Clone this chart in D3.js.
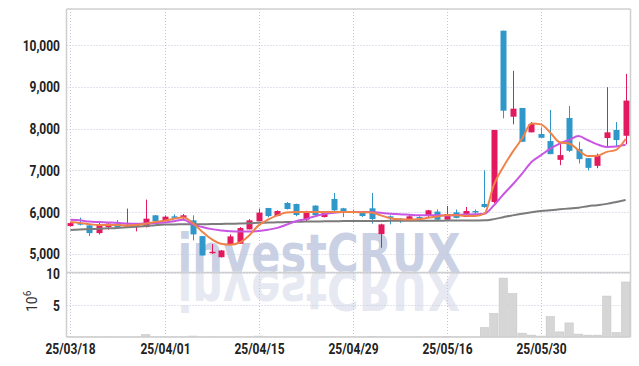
<html>
<head>
<script src="https://d3js.org/d3.v7.min.js" charset="utf-8"></script>
<style type="text/css">
  body { margin: 0; padding: 0; background: #fff; }
  svg { display: block; }
  .tick-label { font-family: Roboto, "DejaVu Sans Condensed", sans-serif; font-weight: 700; font-size: 15px; fill: #222; }
</style>
</head>
<body>
<svg id="chart" width="639" height="366"></svg>
<script type="text/javascript">
// trading days (yy/mm/dd)
var dates = ["25/03/18","25/03/19","25/03/20","25/03/21","25/03/24","25/03/25","25/03/26","25/03/27","25/03/28","25/03/31",
  "25/04/01","25/04/02","25/04/03","25/04/04","25/04/07","25/04/08","25/04/09","25/04/10","25/04/11","25/04/14",
  "25/04/15","25/04/16","25/04/17","25/04/18","25/04/21","25/04/22","25/04/23","25/04/24","25/04/25","25/04/28",
  "25/04/29","25/04/30","25/05/02","25/05/07","25/05/08","25/05/09","25/05/12","25/05/13","25/05/14","25/05/15",
  "25/05/16","25/05/19","25/05/20","25/05/21","25/05/22","25/05/23","25/05/26","25/05/27","25/05/28","25/05/29",
  "25/05/30","25/06/02","25/06/04","25/06/05","25/06/09","25/06/10","25/06/11","25/06/12","25/06/13","25/06/16"];

var opens  = [5663,5735,5680,5495,5640,5721,5649,5649,5640,5921, 5784,5897,5865,5800,5423,5014,4918,5216,5240,5584,
              5777,6096,5904,6216,6192,5817,6154,5880,6313,6089, 6024,6010,6089,5471,5897,5841,5784,5880,5928,6010,
              5817,5993,5880,6024,6192,6240,10344,8284,8493,7909, 7868,7700,7250,8253,7507,7291,7106,7772,7966,7827];
var highs  = [5760,5866,5700,5760,5735,5808,6082,5710,6298,5930, 5920,5945,5952,5921,5423,5231,5090,5464,5640,5830,
              6082,6100,6040,6240,6200,6030,6160,5990,6457,6100, 6060,6020,6457,5720,5920,5850,5930,5900,6050,6060,
              6144,6060,6120,6060,7000,7966,10344,9383,8493,8156, 8029,8445,7644,8541,7683,7291,7400,8990,8156,9310];
var lows   = [5650,5680,5423,5464,5577,5620,5615,5536,5630,5760, 5780,5832,5800,5320,4959,5000,4910,5216,5240,5584,
              5777,5873,5900,6060,5900,5777,5920,5870,6020,5880, 5960,5880,5721,5144,5704,5740,5784,5800,5880,5800,
              5817,5850,5880,5960,6100,6209,8245,8101,7683,7909, 7779,7387,7123,7440,7164,6996,7050,7563,7563,7620];
var closes = [5735,5697,5495,5697,5721,5625,5697,5697,5841,5784, 5889,5865,5921,5464,4959,5048,5079,5416,5615,5800,
              5986,5904,6024,6072,5928,6017,5928,5976,6041,6000, 5985,5904,5832,5704,5865,5784,5897,5850,6041,5817,
              5950,5860,6024,5993,6120,7966,8428,8476,7683,8108, 7779,7387,7363,7467,7267,7058,7346,7909,7724,8669];

// volume, millions of shares
var volume = [0.03,0.03,0.03,0.03,0.03,0.03,0.03,0.03,0.4,0.03, 0.03,0.03,0.03,0.15,0.03,0.03,0.03,0.03,0.03,0.03,
              0.15,0.03,0.03,0.03,0.03,0.03,0.03,0.03,0.03,0.03, 0.03,0.03,0.12,0.03,0.03,0.03,0.03,0.03,0.03,0.03,
              0.1,0.03,0.03,0.03,1.5,3.7,9.2,6.8,0.6,0.3, 0.15,3.2,0.8,2.2,0.45,0.3,0.3,6.4,0.7,8.6];

// moving averages
var ma5  = [5760,5740,5710,5690,5690,5690,5680,5690,5720,5760, 5790,5840,5866,5740,5530,5350,5240,5216,5270,5440,
            5680,5817,5921,5986,6000,6000,6000,6000,6000,6000, 6000,5995,5990,5920,5850,5825,5820,5825,5860,5890,
            5930,5920,5910,5905,5960,6650,7080,7440,7760,8120, 8100,7900,7670,7640,7480,7340,7350,7440,7490,7750];
var ma20 = [5817,5800,5770,5760,5750,5740,5725,5720,5725,5735, 5750,5780,5817,5705,5640,5590,5560,5540,5536,5536,
            5545,5575,5620,5700,5780,5830,5900,5950,5985,6000, 6000,6000,6000,5980,5960,5945,5935,5925,5920,5920,
            5915,5930,5940,5945,5960,6160,6420,6660,6920,7200, 7360,7520,7640,7730,7820,7720,7620,7560,7570,7610];
var ma60 = [5570,5580,5590,5600,5610,5620,5635,5650,5665,5685, 5700,5703,5705,5706,5708,5710,5714,5718,5722,5728,
            5740,5748,5754,5760,5765,5770,5774,5777,5780,5782, 5784,5785,5786,5787,5788,5789,5790,5791,5792,5793,
            5794,5795,5796,5798,5800,5830,5875,5920,5960,5995, 6024,6045,6065,6085,6105,6140,6165,6195,6240,6290];

var priceTicks = [5000, 6000, 7000, 8000, 9000, 10000];
var volumeTicks = [5, 10];
var dateTicks = ["25/03/18","25/04/01","25/04/15","25/04/29","25/05/16","25/05/30"];

var plotLeft = 66.5, plotRight = 630.5, plotTop = 9, priceBottom = 272.5, volBottom = 337;
var upColor = "#e2195f", downColor = "#2f97c9";

var svg = d3.select("#chart");

var x = d3.scaleBand().domain(dates).range([65.7, 630.3]).padding(0);
var bw = x.bandwidth();
function cx(d) { return Math.round(x(d) + bw / 2); }

var y = d3.scaleLinear().domain([4551, 10864]).range([priceBottom, plotTop]);
var yv = d3.scaleLinear().domain([0, 10]).range([volBottom, 273]);

// watermark and its reflection
function watermark(fill, transform) {
  svg.append("text")
    .attr("transform", transform)
    .attr("x", 319).attr("y", 272)
    .attr("text-anchor", "middle")
    .attr("textLength", 283).attr("lengthAdjust", "spacingAndGlyphs")
    .style("font-family", "'DejaVu Sans', sans-serif").style("font-weight", "bold").style("font-size", "53px")
    .style("fill", fill)
    .text("investCRUX");
}
watermark("#cad1e5", null);
watermark("#e6e9f2", "translate(0,272) scale(1,-1) translate(0,-272)");

// grid
var grid = svg.append("g").attr("stroke", "#c4c7d8").attr("stroke-dasharray", "1,2").attr("stroke-width", 1);
grid.selectAll("line.hp").data(priceTicks).enter().append("line")
  .attr("x1", plotLeft).attr("x2", plotRight)
  .attr("y1", function(d) { return Math.round(y(d)) + 0.5; })
  .attr("y2", function(d) { return Math.round(y(d)) + 0.5; });
grid.selectAll("line.hv").data(volumeTicks).enter().append("line")
  .attr("x1", plotLeft).attr("x2", plotRight)
  .attr("y1", function(d) { return Math.round(yv(d)) + 0.5; })
  .attr("y2", function(d) { return Math.round(yv(d)) + 0.5; });
grid.selectAll("line.v").data(dateTicks).enter().append("line")
  .attr("x1", function(d) { return cx(d) + 0.5; }).attr("x2", function(d) { return cx(d) + 0.5; })
  .attr("y1", plotTop).attr("y2", volBottom);

// volume bars
svg.append("g").selectAll("rect").data(dates).enter().append("rect")
  .attr("x", function(d) { return x(d) + 0.5; })
  .attr("width", bw - 1)
  .attr("y", function(d, i) { return yv(volume[i]); })
  .attr("height", function(d, i) { return volBottom - yv(volume[i]); })
  .attr("fill", "#d6d6d6").attr("stroke", "#c4c4c4").attr("stroke-width", 0.5);

// candles
function candleColor(d, i) { return closes[i] >= opens[i] ? upColor : downColor; }
var candles = svg.append("g").selectAll("g").data(dates).enter().append("g")
  .attr("fill", candleColor)
  .attr("stroke", candleColor);
candles.append("line")
  .attr("x1", function(d) { return cx(d) + 0.5; }).attr("x2", function(d) { return cx(d) + 0.5; })
  .attr("y1", function(d, i) { return y(highs[i]); })
  .attr("y2", function(d, i) { return y(lows[i]); })
  .attr("stroke-width", 1);
candles.append("rect")
  .attr("stroke", "none")
  .attr("x", function(d) { return cx(d) - 2.5; })
  .attr("width", 6)
  .attr("y", function(d, i) { return y(Math.max(opens[i], closes[i])); })
  .attr("height", function(d, i) { return Math.max(1.5, Math.abs(y(opens[i]) - y(closes[i]))); });

// moving averages
function maLine(values) {
  return d3.line()
    .x(function(d, i) { return x(dates[i]) + bw / 2; })
    .y(function(d) { return y(d); })
    .curve(d3.curveMonotoneX)(values);
}
svg.append("path").attr("d", maLine(ma60)).attr("fill", "none").attr("stroke", "#7b7b7b").attr("stroke-width", 2);
svg.append("path").attr("d", maLine(ma20)).attr("fill", "none").attr("stroke", "#c955e3").attr("stroke-width", 2);
svg.append("path").attr("d", maLine(ma5)).attr("fill", "none").attr("stroke", "#ef8249").attr("stroke-width", 2);

// frame
var frame = svg.append("g").attr("stroke", "#cfcfcf").attr("stroke-width", 1.5).attr("fill", "none");
frame.append("line").attr("x1", plotLeft).attr("x2", plotRight).attr("y1", plotTop).attr("y2", plotTop);
frame.append("line").attr("x1", plotLeft).attr("x2", plotLeft).attr("y1", plotTop).attr("y2", volBottom);
frame.append("line").attr("x1", plotRight).attr("x2", plotRight).attr("y1", plotTop).attr("y2", volBottom);
frame.append("line").attr("x1", plotLeft).attr("x2", plotRight).attr("y1", priceBottom).attr("y2", priceBottom);
frame.append("line").attr("x1", plotLeft).attr("x2", plotRight).attr("y1", volBottom).attr("y2", volBottom);

// axis labels
var fmt = d3.format(",");
svg.append("g").selectAll("text").data(priceTicks).enter().append("text")
  .attr("class", "tick-label")
  .attr("transform", function(d) { return "translate(60," + (y(d) + 5.5) + ") scale(0.8,1)"; })
  .attr("text-anchor", "end")
  .text(function(d) { return fmt(d); });
svg.append("g").selectAll("text").data(volumeTicks).enter().append("text")
  .attr("class", "tick-label")
  .attr("transform", function(d) { return "translate(60," + (yv(d) + 5.5) + ") scale(0.8,1)"; })
  .attr("text-anchor", "end")
  .text(function(d) { return d; });
svg.append("g").selectAll("text").data(dateTicks).enter().append("text")
  .attr("class", "tick-label")
  .attr("transform", function(d) { return "translate(" + (cx(d) + 0.5) + ",354) scale(0.8,1)"; })
  .attr("text-anchor", "middle")
  .text(function(d) { return d; });

var unit = svg.append("text")
  .attr("transform", "translate(37,312) rotate(-90)")
  .style("font-family", "Roboto, sans-serif").style("font-size", "14px").style("fill", "#333");
unit.append("tspan").text("10");
unit.append("tspan").attr("dy", -6).style("font-size", "10px").text("6");
</script>
</body>
</html>
